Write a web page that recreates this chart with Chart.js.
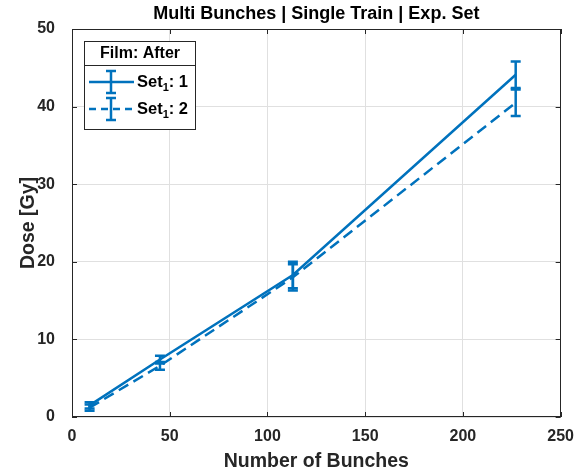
<!DOCTYPE html>
<html>
<head>
<meta charset="utf-8">
<script src="https://cdn.jsdelivr.net/npm/chart.js@4"></script>
<style>
html, body { margin: 0; padding: 0; background: #fff; }
</style>
</head>
<body>
<canvas id="doseChart" width="584" height="476"></canvas>
<script>
const bunches = [9, 45, 113, 227];
const set1Dose = [1.5, 7.4, 18.3, 44.1];
const set1Err = [0.4, 0.5, 1.7, 1.7];
const set2Dose = [1.2, 6.6, 18.0, 40.5];
const set2Err = [0.4, 0.5, 1.7, 1.7];
const xTicks = [0, 50, 100, 150, 200, 250];
const yTicks = [0, 10, 20, 30, 40, 50];
const seriesNames = ['1', '2'];

const blue = '#0072BD';
const axisColor = '#262626';
const fontFamily = "'Liberation Sans', Arial, Helvetica, sans-serif";

const toPoints = (ys) => bunches.map((x, i) => ({x: x, y: ys[i]}));
const errors = [set1Err, set2Err];

// error bars, drawn with the chart's own scales
const errorBarPlugin = {
    id: 'errorBars',
    afterDatasetsDraw(chart) {
        const ctx = chart.ctx;
        const yScale = chart.scales.y;
        chart.data.datasets.forEach((ds, di) => {
            const meta = chart.getDatasetMeta(di);
            ctx.save();
            ctx.strokeStyle = blue;
            ctx.lineWidth = 2.5;
            ctx.setLineDash([]);
            meta.data.forEach((pt, i) => {
                const v = ds.data[i].y;
                const e = errors[di][i];
                const top = yScale.getPixelForValue(v + e);
                const bot = yScale.getPixelForValue(v - e);
                ctx.beginPath();
                ctx.moveTo(pt.x, top);
                ctx.lineTo(pt.x, bot);
                ctx.moveTo(pt.x - 5, top);
                ctx.lineTo(pt.x + 5, top);
                ctx.moveTo(pt.x - 5, bot);
                ctx.lineTo(pt.x + 5, bot);
                ctx.stroke();
            });
            ctx.restore();
        });
    }
};

// box, inward ticks, title and legend
const framePlugin = {
    id: 'frame',
    afterDraw(chart) {
        const ctx = chart.ctx;
        const a = chart.chartArea;
        const xs = chart.scales.x, ys = chart.scales.y;
        ctx.save();
        ctx.strokeStyle = axisColor;
        ctx.lineWidth = 1;
        ctx.strokeRect(Math.round(a.left) + 0.5, Math.round(a.top) + 0.5, Math.round(a.right - a.left) - 1, Math.round(a.bottom - a.top) - 1);
        ctx.beginPath();
        xTicks.forEach(t => {
            const px = Math.round(xs.getPixelForValue(t)) + 0.5;
            ctx.moveTo(px, a.bottom); ctx.lineTo(px, a.bottom - 5);
            ctx.moveTo(px, a.top); ctx.lineTo(px, a.top + 5);
        });
        yTicks.forEach(t => {
            const py = Math.round(ys.getPixelForValue(t)) + 0.5;
            ctx.moveTo(a.left, py); ctx.lineTo(a.left + 5, py);
            ctx.moveTo(a.right, py); ctx.lineTo(a.right - 5, py);
        });
        ctx.stroke();

        // title
        ctx.fillStyle = '#000';
        ctx.font = 'bold 18px ' + fontFamily;
        ctx.textAlign = 'center';
        ctx.textBaseline = 'middle';
        ctx.fillText('Multi Bunches | Single Train | Exp. Set', (a.left + a.right) / 2, 14);

        // legend
        const lx = 84.5, ly = 41.5, lw = 111, lh = 88;
        ctx.fillStyle = '#fff';
        ctx.fillRect(lx, ly, lw, lh);
        ctx.strokeStyle = axisColor;
        ctx.strokeRect(lx, ly, lw, lh);
        ctx.beginPath();
        ctx.moveTo(lx, 65.5); ctx.lineTo(lx + lw, 65.5);
        ctx.stroke();
        ctx.fillStyle = '#000';
        ctx.font = 'bold 16px ' + fontFamily;
        ctx.fillText('Film: After', lx + lw / 2, 54);

        const rows = [82, 109];
        rows.forEach((ry, i) => {
            ctx.strokeStyle = blue;
            ctx.lineWidth = 2.5;
            ctx.setLineDash(i === 1 ? [7, 5] : []);
            ctx.beginPath();
            ctx.moveTo(89, ry); ctx.lineTo(134, ry);
            ctx.stroke();
            ctx.setLineDash([]);
            ctx.beginPath();
            ctx.moveTo(111, ry - 11); ctx.lineTo(111, ry + 11);
            ctx.moveTo(106, ry - 11); ctx.lineTo(116, ry - 11);
            ctx.moveTo(106, ry + 11); ctx.lineTo(116, ry + 11);
            ctx.stroke();

            ctx.fillStyle = '#000';
            ctx.textAlign = 'left';
            ctx.font = 'bold 16.5px ' + fontFamily;
            let tx = 137;
            ctx.fillText('Set', tx, ry);
            tx += ctx.measureText('Set').width;
            ctx.font = 'bold 11px ' + fontFamily;
            ctx.fillText('1', tx, ry + 6);
            tx += ctx.measureText('1').width;
            ctx.font = 'bold 16.5px ' + fontFamily;
            ctx.fillText(': ' + seriesNames[i], tx, ry);
        });
        ctx.restore();
    }
};

const ctx = document.getElementById('doseChart').getContext('2d');
const doseChart = new Chart(ctx, {
    type: 'scatter',
    data: {
        datasets: [{
            label: 'Set1: 1',
            data: toPoints(set1Dose),
            showLine: true,
            borderColor: blue,
            backgroundColor: blue,
            borderWidth: 2.5,
            pointRadius: 0,
            tension: 0
        }, {
            label: 'Set1: 2',
            data: toPoints(set2Dose),
            showLine: true,
            borderColor: blue,
            backgroundColor: blue,
            borderWidth: 2.5,
            borderDash: [11, 6],
            pointRadius: 0,
            tension: 0
        }]
    },
    options: {
        responsive: false,
        animation: false,
        layout: {padding: {top: 29, right: 13, left: 0, bottom: 0}},
        plugins: {
            legend: {display: false},
            tooltip: {enabled: false}
        },
        scales: {
            x: {
                type: 'linear',
                min: 0,
                max: 250,
                afterFit: (scale) => { scale.height = 59; },
                afterBuildTicks: (scale) => { scale.ticks = xTicks.map(v => ({value: v})); },
                grid: {color: '#e0e0e0', drawTicks: false},
                border: {display: false},
                ticks: {
                    padding: 10,
                    color: axisColor,
                    font: {family: fontFamily, size: 16, weight: 'bold'}
                },
                title: {
                    display: true,
                    text: 'Number of Bunches',
                    color: axisColor,
                    padding: {top: 0, bottom: 3},
                    font: {family: fontFamily, size: 19.5, weight: 'bold'}
                }
            },
            y: {
                type: 'linear',
                min: 0,
                max: 50,
                afterFit: (scale) => { scale.width = 72; },
                afterBuildTicks: (scale) => { scale.ticks = yTicks.map(v => ({value: v})); },
                grid: {color: '#e0e0e0', drawTicks: false},
                border: {display: false},
                ticks: {
                    padding: 17,
                    color: axisColor,
                    font: {family: fontFamily, size: 16, weight: 'bold'}
                },
                title: {
                    display: true,
                    text: 'Dose [Gy]',
                    color: axisColor,
                    padding: {top: 17, bottom: 0},
                    font: {family: fontFamily, size: 19.5, weight: 'bold'}
                }
            }
        }
    },
    plugins: [errorBarPlugin, framePlugin]
});
</script>
</body>
</html>
